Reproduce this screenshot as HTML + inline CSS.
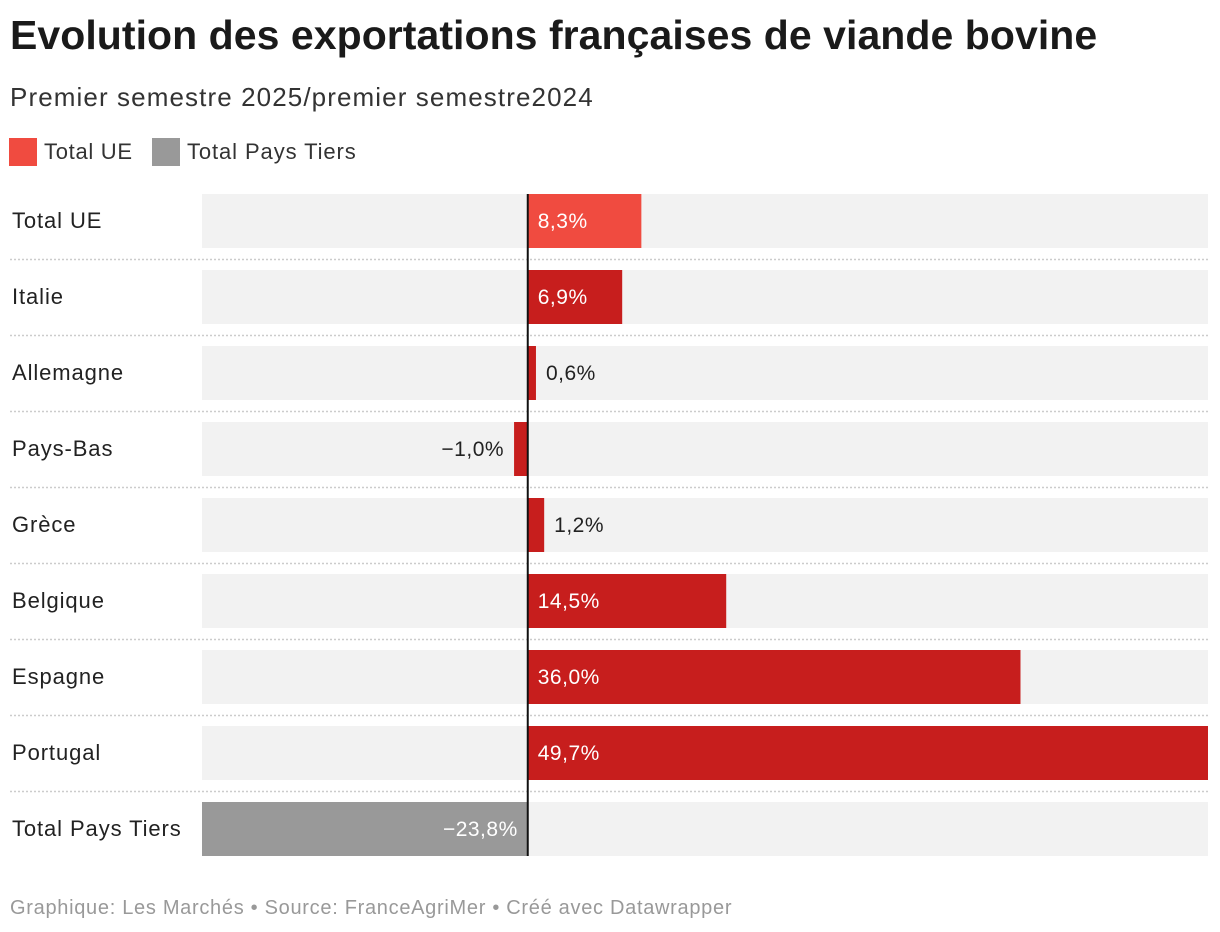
<!DOCTYPE html>
<html><head><meta charset="utf-8"><style>
body{margin:0;width:1220px;height:932px;background:#fff;font-family:"Liberation Sans",sans-serif;overflow:hidden;position:relative}
.t{position:absolute;white-space:nowrap}
</style></head><body>
<div class="t" style="left:10px;top:12px;font-size:41px;font-weight:bold;color:#1a1a1a;letter-spacing:0.05px">Evolution des exportations françaises de viande bovine</div>
<div class="t" style="left:10px;top:82px;font-size:26px;color:#333;letter-spacing:1.1px">Premier semestre 2025/premier semestre2024</div>
<div>
<div class="t" style="left:9px;top:138px;width:28px;height:28px;background:#f04b40"></div>
<div class="t" style="left:44px;top:139px;font-size:22px;color:#333;letter-spacing:0.7px">Total UE</div>
<div class="t" style="left:152px;top:138px;width:28px;height:28px;background:#999"></div>
<div class="t" style="left:187px;top:139px;font-size:22px;color:#333;letter-spacing:0.9px">Total Pays Tiers</div>
</div>
<svg id="chart" width="1220" height="932" style="position:absolute;left:0;top:0"></svg>
<div class="t" style="left:10px;top:897px;font-size:20px;color:#999;letter-spacing:0.7px">Graphique: Les Marchés • Source: FranceAgriMer • Créé avec Datawrapper</div>
<script>
const categories=["Total UE","Italie","Allemagne","Pays-Bas","Grèce","Belgique","Espagne","Portugal","Total Pays Tiers"];
const values=[8.3,6.9,0.6,-1.0,1.2,14.5,36.0,49.7,-23.8];
const labels=["8,3%","6,9%","0,6%","−1,0%","1,2%","14,5%","36,0%","49,7%","−23,8%"];
const groups=["ue","country","country","country","country","country","country","country","tiers"];
const NS="http://www.w3.org/2000/svg";
const svg=document.getElementById('chart');
const x0=202,x1=1208;
const minV=Math.min(0,...values),maxV=Math.max(0,...values);
const xs=v=>x0+(v-minV)/(maxV-minV)*(x1-x0);
const top0=194,pitch=76,bh=54;
const colors={ue:"#f04b40",country:"#c71e1d",tiers:"#999999"};
function el(t,a){const e=document.createElementNS(NS,t);for(const k in a)e.setAttribute(k,a[k]);svg.appendChild(e);return e;}
categories.forEach((c,i)=>{
  const y=top0+i*pitch;
  const bg=el('rect',{x:x0,y:y,width:x1-x0,height:bh,fill:'#f2f2f2'});
  
  
  const lab=el('text',{x:12,y:y+34,'font-size':22,fill:'#222','letter-spacing':0.9});
  lab.textContent=c;
  
  
  if(i<categories.length-1){
    const ln=el('line',{x1:10,x2:x1,y1:y+65.5,y2:y+65.5,stroke:'#ccc','stroke-width':1.5,'stroke-dasharray':'2,2'});
    
    
  }
  const v=values[i],a=xs(Math.min(0,v)),b=xs(Math.max(0,v));
  const r=el('rect',{x:a,y:y,width:b-a,height:bh,fill:colors[groups[i]]});
  
  
  const inside=(b-a)>70;
  let tx,anchor,fill;
  if(v>=0){ if(inside){tx=xs(0)+10;fill='#fff';}else{tx=b+10;fill='#222';} anchor='start'; }
  else { if(inside){tx=xs(0)-10;fill='#fff';}else{tx=a-10;fill='#222';} anchor='end'; }
  const t=el('text',{x:tx,y:y+34,'font-size':21,fill:fill,'text-anchor':anchor,'letter-spacing':0.5});
  t.textContent=labels[i];
  
  
});
const z=el('line',{x1:xs(0),x2:xs(0),y1:top0,y2:top0+(categories.length-1)*pitch+bh,stroke:'#111','stroke-width':2});


</script>
</body></html>
